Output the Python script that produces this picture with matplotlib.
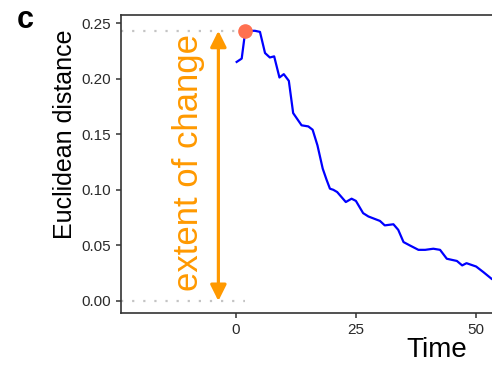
import matplotlib
matplotlib.use("Agg")
import matplotlib.pyplot as plt

plt.rcParams["font.family"] = ["Liberation Sans", "DejaVu Sans"]

# values
time = [0.2, 1.25, 2.0, 4.0, 5.05, 6.1, 7.1, 8.0, 9.1, 10.0, 11.05, 11.95, 13.7,
        15.1, 16.0, 17.0, 18.1, 18.9, 19.6, 20.3, 21.1, 22.9, 24.1, 25.0, 26.5,
        27.6, 30.0, 31.0, 32.8, 33.8, 34.9, 36.2, 38.0, 39.4, 41.1, 42.5, 43.9,
        46.0, 47.1, 48.0, 50.0, 51.5, 53.2]
distance = [0.215, 0.218, 0.243, 0.243, 0.242, 0.223, 0.219, 0.220, 0.201, 0.204,
            0.198, 0.169, 0.158, 0.157, 0.154, 0.140, 0.119, 0.109, 0.101, 0.100,
            0.098, 0.089, 0.092, 0.090, 0.079, 0.076, 0.072, 0.068, 0.069, 0.064,
            0.053, 0.050, 0.046, 0.046, 0.047, 0.046, 0.038, 0.036, 0.032, 0.034,
            0.031, 0.026, 0.020]
peak_time = 2.0
peak_value = 0.243
arrow_time = -3.6
label_time = -9.9
y_ticks = [0.00, 0.05, 0.10, 0.15, 0.20, 0.25]
x_ticks = [0, 25, 50]

orange = "#FF9900"
xmin, xmax = -23.85, 53.3

fig = plt.figure(figsize=(4.92, 3.72), dpi=100)
ax = fig.add_axes([121 / 492, 1 - 313 / 372, 1 - 121 / 492, (313 - 15) / 372])

# dotted reference lines at zero and at the peak
ax.hlines([0, peak_value], xmin, peak_time, colors="#c4c4c4", linewidth=1.6,
          linestyles=(0, (1, 4)), zorder=1)

ax.plot(time, distance, color="#0000FF", linewidth=1.6, zorder=3)
ax.plot([peak_time], [peak_value], "o", color="#FF7050", markersize=9.5, zorder=4)

# double arrow for the extent of change
ax.annotate("", xy=(arrow_time, peak_value), xytext=(arrow_time, 0),
            arrowprops=dict(arrowstyle="<|-|>", color=orange, lw=2.3,
                            mutation_scale=24, shrinkA=0, shrinkB=0), zorder=2)
ax.text(label_time, 0.1245, "extent of change", rotation=90, ha="center",
        va="center", fontsize=25, color=orange)

ax.set_xlim(xmin, xmax)
ax.set_ylim(-0.0108, 0.2572)
ax.set_xticks(x_ticks)
ax.set_yticks(y_ticks)
ax.set_yticklabels([f"{v:.2f}" for v in y_ticks])

for side in ["left", "bottom", "top"]:
    ax.spines[side].set_color("#333333")
    ax.spines[side].set_linewidth(1.2)
ax.spines["right"].set_visible(False)
ax.tick_params(axis="both", direction="out", length=3.5, width=1.1,
               color="#333333", labelcolor="#2a2a2a", labelsize=11, pad=3.5)

ax.set_ylabel("Euclidean distance", fontsize=18)
ax.yaxis.set_label_coords(-0.118, 0.60)
ax.set_xlabel("Time", fontsize=20)
ax.xaxis.set_label_coords(0.852, -0.082)

fig.text(17 / 492, 1 - 20 / 372, "c", fontsize=22, fontweight="bold",
         ha="left", va="center")

fig.savefig("out.png", dpi=100)
